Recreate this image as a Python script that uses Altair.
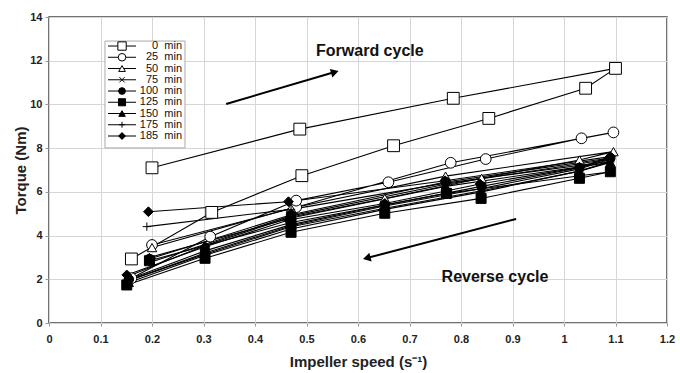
import altair as alt
import pandas as pd

# ---------------- data ----------------
series_names = ["0\u00a0 min", "25\u00a0 min", "50\u00a0 min", "75\u00a0 min", "100\u00a0 min",
                "125\u00a0 min", "150\u00a0 min", "175\u00a0 min", "185\u00a0 min"]

# each run: forward sweep (4 points) then reverse sweep (6 points)
x_0 = [0.200, 0.487, 0.785, 1.100, 1.042, 0.854, 0.669, 0.491, 0.316, 0.160]
y_0 = [7.10, 8.87, 10.28, 11.65, 10.74, 9.36, 8.11, 6.74, 5.06, 2.93]
x_25 = [0.200, 0.480, 0.780, 1.096, 1.034, 0.848, 0.659, 0.480, 0.313, 0.160]
y_25 = [3.57, 5.30, 7.33, 8.72, 8.45, 7.50, 6.44, 5.60, 3.95, 2.05]
x_50 = [0.200, 0.470, 0.770, 1.096, 1.030, 0.840, 0.652, 0.470, 0.303, 0.155]
y_50 = [3.45, 5.25, 6.72, 7.84, 7.46, 6.62, 5.70, 4.85, 3.55, 2.15]
x_75 = [0.200, 0.470, 0.770, 1.090, 1.030, 0.840, 0.652, 0.470, 0.303, 0.155]
y_75 = [2.80, 4.90, 6.35, 7.50, 7.05, 6.15, 5.35, 4.45, 3.20, 1.95]
x_100 = [0.195, 0.470, 0.770, 1.090, 1.030, 0.840, 0.652, 0.470, 0.303, 0.155]
y_100 = [2.93, 4.95, 6.45, 7.55, 7.10, 6.25, 5.40, 4.50, 3.30, 2.00]
x_125 = [0.195, 0.470, 0.772, 1.090, 1.030, 0.839, 0.652, 0.470, 0.303, 0.151]
y_125 = [2.85, 4.60, 5.93, 6.92, 6.62, 5.70, 5.02, 4.15, 2.96, 1.74]
x_150 = [0.195, 0.470, 0.770, 1.090, 1.030, 0.840, 0.652, 0.470, 0.303, 0.155]
y_150 = [3.00, 4.80, 6.25, 7.35, 6.95, 6.00, 5.20, 4.30, 3.10, 1.85]
x_175 = [0.190, 0.470, 0.770, 1.090, 1.030, 0.840, 0.652, 0.470, 0.303, 0.155]
y_175 = [4.41, 5.20, 6.40, 7.40, 6.95, 6.05, 5.25, 4.40, 3.15, 1.95]
x_185 = [0.193, 0.465, 0.769, 1.090, 1.030, 0.837, 0.652, 0.465, 0.303, 0.151]
y_185 = [5.09, 5.55, 6.51, 7.61, 7.12, 6.36, 5.47, 4.71, 3.49, 2.20]

xs = [x_0, x_25, x_50, x_75, x_100, x_125, x_150, x_175, x_185]
ys = [y_0, y_25, y_50, y_75, y_100, y_125, y_150, y_175, y_185]

x_ticks = [0, 0.1, 0.2, 0.3, 0.4, 0.5, 0.6, 0.7, 0.8, 0.9, 1.0, 1.1, 1.2]
y_ticks = [0, 2, 4, 6, 8, 10, 12, 14]

# annotations (data units)
arrow_x = [0.344, 0.907]
arrow_y = [10.02, 4.76]
arrow_x2 = [0.555, 0.617]
arrow_y2 = [11.48, 2.97]
arrow_angle = [343.6, 165.3]
note_text = ["Forward cycle", "Reverse cycle"]
note_x = [0.623, 0.866]
note_y = [12.44, 2.10]

# ---------------- styles ----------------
FONT = "Liberation Sans"
X_PATH = "M-1,-1L1,1M-1,1L1,-1"
PLUS_PATH = "M-1,0H1M0,-1V1"
plot_shapes = ["square", "circle", "triangle-up", X_PATH, "circle", "square", "triangle-up", PLUS_PATH, "diamond"]
plot_fills = ["white", "white", "white", "transparent", "black", "black", "black", "transparent", "black"]
plot_sizes = [140, 115, 90, 55, 90, 100, 85, 70, 95]
legend_scale = 0.5

# legend layout (data units of the axes)
LEG_LEFT, LEG_RIGHT, LEG_TOP, LEG_BOTTOM = 0.1087, 0.2641, 12.90, 8.01
LEG_ROW0, LEG_STEP = 12.672, 0.5146
LEG_LINE_X1, LEG_LINE_X2, LEG_MARK_X, LEG_TEXT_X = 0.1146, 0.1690, 0.1418, 0.2583

rows = []
for k, (name, xv, yv) in enumerate(zip(series_names, xs, ys)):
    for i, (a, b) in enumerate(zip(xv, yv)):
        rows.append({"series": name, "idx": i, "x": a, "y": b, "sz": plot_sizes[k]})
df = pd.DataFrame(rows)

leg = pd.DataFrame({
    "series": series_names,
    "y": [LEG_ROW0 - i * LEG_STEP for i in range(len(series_names))],
    "x1": LEG_LINE_X1, "x2": LEG_LINE_X2, "xm": LEG_MARK_X, "xt": LEG_TEXT_X,
    "sz": [s * legend_scale for s in plot_sizes],
})
leg_box = pd.DataFrame({"x": [LEG_LEFT], "x2": [LEG_RIGHT], "y": [LEG_TOP], "y2": [LEG_BOTTOM]})

arrows = pd.DataFrame({"x": arrow_x, "y": arrow_y, "x2": arrow_x2, "y2": arrow_y2, "angle": arrow_angle})
notes = pd.DataFrame({"text": note_text, "x": note_x, "y": note_y})

xs_scale = alt.Scale(domain=[0, 1.2], nice=False, zero=False)
ys_scale = alt.Scale(domain=[0, 14], nice=False)
shape_scale = alt.Scale(domain=series_names, range=plot_shapes)
fill_scale = alt.Scale(domain=series_names, range=plot_fills)

x_enc = alt.X("x:Q", scale=xs_scale,
              axis=alt.Axis(title="Impeller speed (s\u207b\u00b9)", values=x_ticks, format="~g",
                            labelFont=FONT, labelFontSize=11, labelFontWeight="bold", labelColor="#222",
                            titleFont=FONT, titleFontSize=15, titleFontWeight="bold", titleColor="#222",
                            labelPadding=7, titlePadding=10, tickSize=3, tickColor="#999",
                            domain=False, grid=True, gridColor="#d6d6d6", labelFlush=False))
y_enc = alt.Y("y:Q", scale=ys_scale,
              axis=alt.Axis(title="Torque (Nm)", values=y_ticks,
                            labelFont=FONT, labelFontSize=11, labelFontWeight="bold", labelColor="#222",
                            titleFont=FONT, titleFontSize=15, titleFontWeight="bold", titleColor="#222",
                            labelPadding=3, titlePadding=1, tickSize=4, tickColor="#999",
                            domain=False, grid=True, gridColor="#d6d6d6", labelFlush=False))

def X(f):
    return alt.X(f, scale=xs_scale)

def Y(f):
    return alt.Y(f, scale=ys_scale)

lines = alt.Chart(df).mark_line(color="black", strokeWidth=1.1).encode(
    x=x_enc, y=y_enc, detail="series:N", order="idx:Q")

points = alt.Chart(df).mark_point(filled=True, stroke="black", strokeWidth=1, opacity=1).encode(
    x=X("x:Q"), y=Y("y:Q"),
    shape=alt.Shape("series:N", scale=shape_scale, legend=None),
    fill=alt.Fill("series:N", scale=fill_scale, legend=None),
    size=alt.Size("sz:Q", scale=None, legend=None),
)

box = alt.Chart(leg_box).mark_rect(fill="white", stroke="#aaaaaa", strokeWidth=1).encode(
    x=X("x:Q"), x2="x2:Q", y=Y("y:Q"), y2="y2:Q")
leg_lines = alt.Chart(leg).mark_rule(color="black", strokeWidth=1).encode(
    x=X("x1:Q"), x2="x2:Q", y=Y("y:Q"))
leg_points = alt.Chart(leg).mark_point(filled=True, stroke="black", strokeWidth=1, opacity=1).encode(
    x=X("xm:Q"), y=Y("y:Q"),
    shape=alt.Shape("series:N", scale=shape_scale, legend=None),
    fill=alt.Fill("series:N", scale=fill_scale, legend=None),
    size=alt.Size("sz:Q", scale=None, legend=None),
)
leg_text = alt.Chart(leg).mark_text(font=FONT, fontSize=11, color="#111", align="right",
                                    baseline="middle").encode(
    x=X("xt:Q"), y=Y("y:Q"), text="series:N")

arrow_lines = alt.Chart(arrows).mark_rule(color="black", strokeWidth=2).encode(
    x=X("x:Q"), y=Y("y:Q"), x2="x2:Q", y2="y2:Q")
arrow_heads = alt.Chart(arrows).mark_point(shape="triangle-right", filled=True, color="black",
                                            size=80, opacity=1).encode(
    x=X("x2:Q"), y=Y("y2:Q"), angle=alt.Angle("angle:Q", scale=None))
note_marks = alt.Chart(notes).mark_text(font=FONT, fontSize=16, fontWeight="bold", color="#111",
                                        align="center", baseline="middle").encode(
    x=X("x:Q"), y=Y("y:Q"), text="text:N")

chart = alt.layer(lines, points, box, leg_lines, leg_points, leg_text,
                  arrow_lines, arrow_heads, note_marks).properties(
    width=618, height=306,
    autosize=alt.AutoSizeParams(type="none"),
    padding={"left": 49, "top": 17, "right": 13, "bottom": 50},
    background="white",
).configure_view(stroke="#444444", strokeWidth=1.5)

chart.save("out.html", embed_options={"renderer": "svg", "actions": False})
